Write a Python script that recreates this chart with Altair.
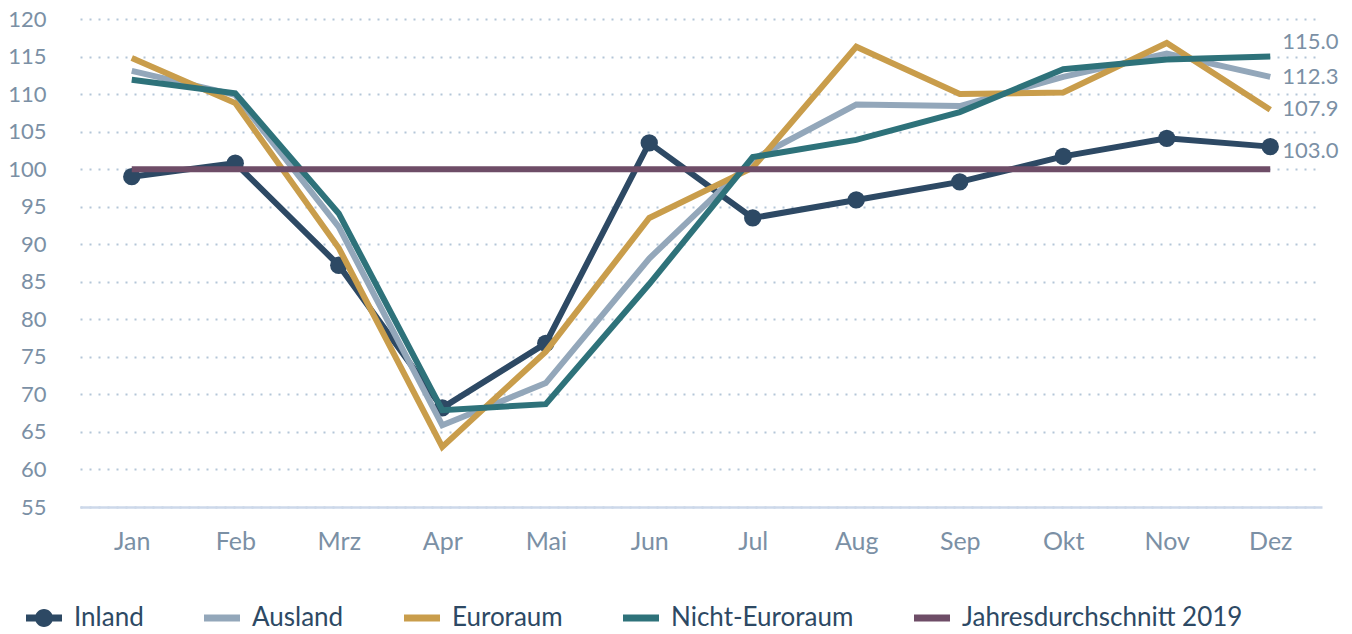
import altair as alt
import pandas as pd

months = ["Jan", "Feb", "Mrz", "Apr", "Mai", "Jun", "Jul", "Aug", "Sep", "Okt", "Nov", "Dez"]
inland = [99.0, 100.8, 87.2, 68.2, 76.8, 103.5, 93.5, 95.9, 98.3, 101.7, 104.1, 103.0]
ausland = [113.1, 109.9, 92.3, 65.9, 71.5, 88.1, 101.3, 108.6, 108.4, 112.3, 115.4, 112.3]
euroraum = [114.8, 108.8, 89.5, 63.0, 75.7, 93.5, 100.2, 116.3, 110.0, 110.2, 116.8, 107.9]
nicht_euroraum = [111.9, 110.1, 94.1, 67.9, 68.7, 84.7, 101.6, 103.9, 107.6, 113.3, 114.6, 115.0]
jahresdurchschnitt = [100.0, 100.0, 100.0, 100.0, 100.0, 100.0, 100.0, 100.0, 100.0, 100.0, 100.0, 100.0]

series_names = ["Inland", "Ausland", "Euroraum", "Nicht-Euroraum", "Jahresdurchschnitt 2019"]
series_values = [inland, ausland, euroraum, nicht_euroraum, jahresdurchschnitt]
series_colors = ["#2d4964", "#93a7ba", "#c99d4b", "#2e727a", "#6e4d67"]

end_label_series = ["Nicht-Euroraum", "Ausland", "Euroraum", "Inland"]
end_label_texts = ["115.0", "112.3", "107.9", "103.0"]
end_label_dy = [-15, 0, -1, 4]

y_ticks = list(range(55, 121, 5))

rows = []
for name, vals in zip(series_names, series_values):
    for m, v in zip(months, vals):
        rows.append({"Monat": m, "Wert": v, "Serie": name})
df = pd.DataFrame(rows)

FONT = "Lato"
LABEL_COLOR = "#7b90a5"

x_enc = alt.X(
    "Monat:N",
    sort=months,
    scale=alt.Scale(type="point", padding=0.5),
    axis=alt.Axis(
        title=None,
        labelAngle=0,
        labelFont=FONT,
        labelFontSize=25,
        labelColor=LABEL_COLOR,
        labelPadding=22,
        ticks=False,
        domain=True,
        domainColor="#cdd8ea",
        domainWidth=2.5,
        grid=False,
    ),
)
y_enc = alt.Y(
    "Wert:Q",
    scale=alt.Scale(domain=[55, 120], nice=False, zero=False),
    axis=alt.Axis(
        title=None,
        values=y_ticks,
        labelFont=FONT,
        labelFontSize=22,
        labelColor=LABEL_COLOR,
        labelPadding=34,
        ticks=False,
        domain=False,
        grid=True,
        gridColor="#b4c6d8",
        gridDash=[2, 7],
        gridWidth=2,
    ),
)

color_scale = alt.Scale(domain=series_names, range=series_colors)
base = alt.Chart(df)

layers = []
for name, col in zip(series_names, series_colors):
    sub = base.transform_filter(alt.datum.Serie == name)
    layers.append(
        sub.mark_line(strokeWidth=6, strokeJoin="miter", color=col).encode(x=x_enc, y=y_enc)
    )
    if name == "Inland":
        layers.append(
            sub.mark_circle(size=300, opacity=1, color=col).encode(x=x_enc, y=y_enc)
        )

# legend built from an invisible point layer
bar = "M-1,-0.2H1V0.2H-1Z"
bar_dot = "M-1,-0.2H1V0.2H-1Z M0.5,0A0.5,0.5 0 1,1 -0.5,0A0.5,0.5 0 1,1 0.5,0Z"
shape_range = [bar_dot, bar, bar, bar, bar]
legend_props = dict(
    title=None, orient="none", direction="horizontal",
    legendX=-54, legendY=581,
    symbolSize=1296, symbolOpacity=1, symbolStrokeWidth=0,
    labelFont=FONT, labelFontSize=26, labelColor="#2d4964",
    labelOffset=12, columnPadding=60, labelLimit=400,
)
legend_layer = base.mark_point(filled=True, opacity=0, size=1).encode(
    x=x_enc, y=y_enc,
    color=alt.Color("Serie:N", scale=color_scale, legend=alt.Legend(**legend_props)),
    shape=alt.Shape(
        "Serie:N",
        scale=alt.Scale(domain=series_names, range=shape_range),
        legend=alt.Legend(**legend_props),
    ),
)

# end labels
last_vals = {name: vals[-1] for name, vals in zip(series_names, series_values)}
for name, txt, dy in zip(end_label_series, end_label_texts, end_label_dy):
    lab_df = pd.DataFrame([{"Monat": months[-1], "Wert": last_vals[name], "Label": txt}])
    layers.append(
        alt.Chart(lab_df).mark_text(
            align="left", baseline="middle", dx=12, dy=dy,
            font=FONT, fontSize=22, color=LABEL_COLOR,
        ).encode(x=x_enc, y=y_enc, text="Label:N")
    )

chart = alt.layer(legend_layer, *layers).properties(
    width=1242,
    height=488,
    autosize=alt.AutoSizeParams(type="none"),
    padding={"left": 80, "top": 19, "right": 30, "bottom": 127},
    background="white",
).configure_view(stroke=None)

chart.save("out.html", embed_options={"renderer": "svg", "actions": False})
